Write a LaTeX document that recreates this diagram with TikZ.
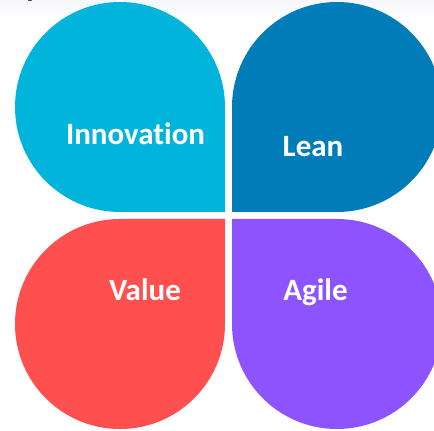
\documentclass[tikz,border=0pt]{standalone}
\usepackage{fontspec}
\setmainfont[Ligatures=CommonOff]{Carlito}
\definecolor{petalcyan}{HTML}{00B4DC}
\definecolor{petalblue}{HTML}{007DB9}
\definecolor{petalred}{HTML}{FF4F4F}
\definecolor{petalpurple}{HTML}{8C53FF}
\definecolor{bandgray}{HTML}{F6F7FA}
\definecolor{titledark}{HTML}{2B2B33}
\begin{document}
\begin{tikzpicture}[x=1pt,y=1pt,
  petaltext/.style={text=white,font=\bfseries\fontsize{31}{31}\selectfont,inner sep=0pt,anchor=base}]
\useasboundingbox (0,0) rectangle (434,431);
\clip (0,0) rectangle (434,431);
\fill[white] (0,0) rectangle (434,431);
\shade[top color=bandgray,bottom color=white] (0,412) rectangle (434,431);
\node[text=titledark,font=\bfseries\fontsize{31}{31}\selectfont,inner sep=0pt,anchor=base west] (title) at (25,434) {y};
% top-left petal
\fill[petalcyan] (225,324) arc[start angle=0,end angle=270,radius=105] -- (225,219) -- cycle;
% top-right petal
\fill[petalblue] (337,219) arc[start angle=-90,end angle=180,radius=105] -- (232,219) -- cycle;
% bottom-left petal
\fill[petalred] (120,212) arc[start angle=90,end angle=360,radius=105] -- (225,212) -- cycle;
% bottom-right petal
\fill[petalpurple] (232,107) arc[start angle=180,end angle=450,radius=105] -- (232,212) -- cycle;
\node[petaltext] (innovation) at (135.5,286) {Innovation};
\node[petaltext] (lean) at (313,274) {Lean};
\node[petaltext] (value) at (145,130) {Value};
\node[petaltext] (agile) at (315.5,130) {Agile};
\end{tikzpicture}
\end{document}
